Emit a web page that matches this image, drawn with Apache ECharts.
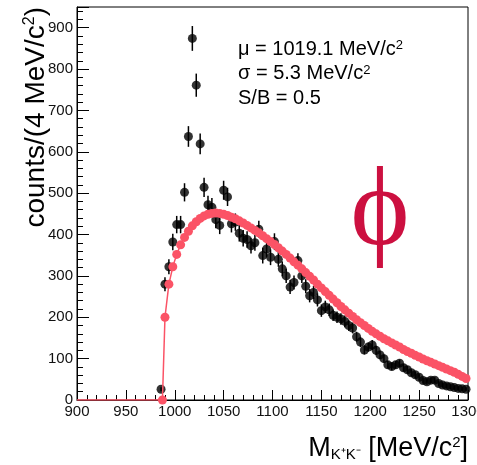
<!DOCTYPE html>
<html><head><meta charset="utf-8">
<script src="https://cdn.jsdelivr.net/npm/echarts@6/dist/echarts.min.js"></script>
<style>html,body{margin:0;padding:0;background:#fff}#c{width:477px;height:465px}</style>
</head><body><div id="c"></div>
<script>
// Axis ranges (MeV/c^2, counts)
const xMin = 900, xMax = 1300, xStep = 50;
const yMin = 0, yMax = 950, yStep = 100;
// Binning: 4 MeV/c^2 bins; first populated bin centre
const binWidth = 4;
const firstBinCenter = 986;
// K+K- kinematic threshold, where the red curve rises from zero
const kkThreshold = 987.4;

// Data: K+K- invariant mass counts per bin (from 986 to 1298)
const counts = [
  26, 280, 322, 382, 424, 424, 502, 637, 874, 761,
  619, 514, 472, 466, 436, 422, 507, 491, 426, 430,
  403, 391, 388, 373, 380, 413, 349, 365, 345, 383,
  340, 317, 300, 273, 284, 337, 300, 275, 252, 260,
  242, 216, 225, 218, 205, 200, 196, 190, 180, 174,
  153, 140, 121, 128, 133, 120, 109, 100, 85, 81,
  85, 89, 78, 73, 66, 61, 55, 47, 44, 48,
  48, 40, 36, 34, 32, 30, 28, 27, 26
];
const countErrors = [
  5, 17, 18, 20, 21, 21, 22, 25, 30, 28,
  25, 23, 22, 22, 21, 21, 23, 22, 21, 21,
  20, 20, 20, 19, 19, 20, 19, 19, 19, 20,
  18, 18, 17, 17, 17, 18, 17, 17, 16, 16,
  16, 15, 15, 15, 14, 14, 14, 14, 13, 13,
  12, 12, 11, 11, 12, 11, 10, 10, 9, 9,
  9, 9, 9, 9, 8, 8, 7, 7, 7, 7,
  7, 6, 6, 6, 6, 5, 5, 5, 5
];
// Background / fit points (red), same bins starting at 990
const fitValues = [
  200, 280, 322, 352, 375, 393, 408, 421, 431,
  439, 445, 449, 451, 452, 451, 449, 446, 442, 438,
  433, 428, 422, 416, 410, 404, 397, 390, 383, 376,
  368, 360, 352, 343, 334, 326, 317, 308, 299, 290,
  280, 271, 262, 253, 244, 235, 226, 218, 210, 202,
  194, 187, 180, 173, 166, 160, 154, 148, 143, 138,
  133, 128, 122, 117, 113, 108, 104, 99, 95, 91,
  87, 83, 79, 75, 71, 67, 62, 57, 52
];
const statLines = ['μ = 1019.1 MeV/c{sup|2}', 'σ = 5.3 MeV/c{sup|2}', 'S/B = 0.5'];
const yTitle = 'counts/(4 MeV/c{sup|2})';
const xTitle = 'M{sub|K⁺K⁻} [MeV/c{sup|2}]';

const FONT = '"Liberation Sans", Arial, Helvetica, sans-serif';
const RED = '#fb5366';

const binCenters = counts.map((_, i) => firstBinCenter + i * binWidth);
const dataPts = binCenters.map((x, i) => [x, counts[i], countErrors[i]]);
const fitPts = [
  { value: [xMin, 0], symbol: 'none' },
  { value: [kkThreshold, 0] }
];
fitValues.forEach((v, i) => fitPts.push({ value: [binCenters[i + 1], v] }));

const chart = echarts.init(document.getElementById('c'), null, { renderer: 'canvas' });
const axisCommon = {
  type: 'value',
  axisLine: { show: true, onZero: false, lineStyle: { color: '#000', width: 1 } },
  axisTick: { show: true, inside: true, lineStyle: { color: '#000', width: 1 } },
  minorTick: { show: true, splitNumber: 5, lineStyle: { color: '#000', width: 1 } },
  splitLine: { show: false },
  minorSplitLine: { show: false },
  axisLabel: { color: '#111', fontSize: 15, fontFamily: FONT, margin: 4, formatter: v => String(v) }
};
chart.setOption({
  animation: false,
  backgroundColor: '#fff',
  grid: { left: 77, right: 9, top: 7, bottom: 65, show: true, borderColor: '#000', borderWidth: 1,
          backgroundColor: 'transparent', containLabel: false, outerBoundsMode: 'none' },
  xAxis: Object.assign({}, axisCommon, {
    min: xMin, max: xMax, interval: xStep,
    axisTick: Object.assign({}, axisCommon.axisTick, { length: 10 }),
    minorTick: Object.assign({}, axisCommon.minorTick, { length: 5 })
  }),
  yAxis: Object.assign({}, axisCommon, {
    min: yMin, max: yMax, interval: yStep,
    axisTick: Object.assign({}, axisCommon.axisTick, { length: 12 }),
    minorTick: Object.assign({}, axisCommon.minorTick, { length: 6 }),
    axisLabel: Object.assign({}, axisCommon.axisLabel, { showMaxLabel: false })
  }),
  series: [
    {
      type: 'custom', name: 'errors', data: dataPts, encode: { x: 0, y: 1 }, z: 2,
      renderItem: function (params, api) {
        const x = api.value(0), y = api.value(1), e = api.value(2);
        const p1 = api.coord([x, y - e]), p2 = api.coord([x, y + e]);
        return { type: 'line', shape: { x1: p1[0], y1: p1[1], x2: p2[0], y2: p2[1] },
                 style: { stroke: '#000', lineWidth: 1.5 } };
      }
    },
    {
      type: 'scatter', name: 'data', data: dataPts.map(d => [d[0], d[1]]), z: 3,
      symbol: 'circle', symbolSize: 9, itemStyle: { color: '#000' }
    },
    {
      type: 'line', name: 'fit', data: fitPts, z: 4,
      symbol: 'circle', symbolSize: 9, showSymbol: true, showAllSymbol: true,
      itemStyle: { color: RED }, lineStyle: { color: RED, width: 1.5 }
    }
  ],
  graphic: [
    ...statLines.map((t, i) => ({
      type: 'text', x: 238, y: 49 + i * 24.5,
      style: { text: t, fontSize: 20, fontFamily: FONT, fill: '#000', verticalAlign: 'middle',
               rich: { sup: { fontSize: 13, fontFamily: FONT, fill: '#000', verticalAlign: 'top' } } }
    })),
    {
      type: 'text', x: 50, y: 7, rotation: Math.PI / 2,
      style: { text: yTitle, fontSize: 28, fontFamily: FONT, fill: '#000', align: 'right', verticalAlign: 'bottom',
               rich: { sup: { fontSize: 16, fontFamily: FONT, fill: '#000', verticalAlign: 'top' } } }
    },
    {
      type: 'text', x: 468, y: 462,
      style: { text: xTitle, fontSize: 27, fontFamily: FONT, fill: '#000', align: 'right', verticalAlign: 'bottom',
               rich: { sub: { fontSize: 15, fontFamily: FONT, fill: '#000', verticalAlign: 'bottom' },
                       sup: { fontSize: 15, fontFamily: FONT, fill: '#000', verticalAlign: 'top' } } }
    },
    {
      type: 'text', x: 380, y: 215,
      style: { text: '\u03D5', font: '112px "Liberation Serif", "DejaVu Serif", serif', fill: '#cc1040',
               align: 'center', verticalAlign: 'middle' }
    }
  ]
});
</script></body></html>
